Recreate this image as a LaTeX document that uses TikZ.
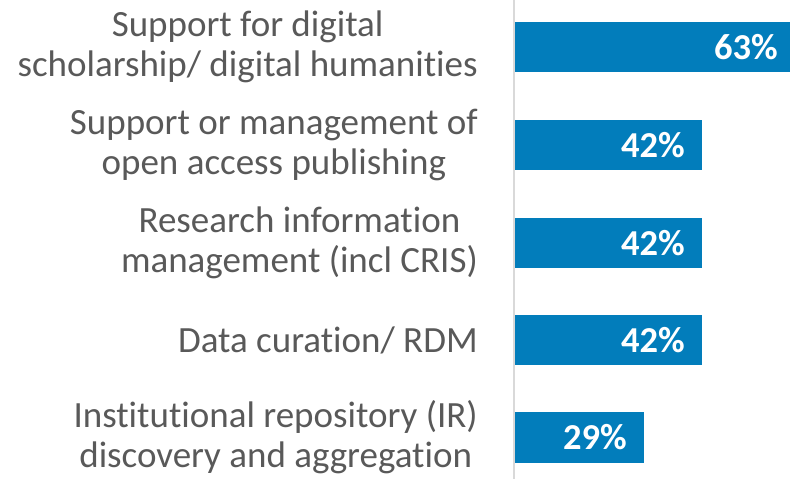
\documentclass[tikz,border=0pt]{standalone}
\usepackage{fontspec}
\setmainfont{Carlito}[RawFeature={-liga;-dlig}]
\definecolor{barblue}{RGB}{2,125,187}
\definecolor{labgray}{RGB}{89,89,89}
\definecolor{axisgray}{RGB}{217,217,217}
\begin{document}
\begin{tikzpicture}[x=1pt,y=-1pt,
  bar/.style={fill=barblue,draw=none},
  lab/.style={anchor=east,align=center,text=labgray,inner sep=0pt,
    font=\fontsize{37}{40}\selectfont},
  val/.style={anchor=east,text=white,inner sep=0pt,
    font=\fontsize{36.5}{40}\selectfont\bfseries}]
\useasboundingbox (0,0) rectangle (790,479);
\begin{scope}
\clip (0,0) rectangle (790,479);
\draw[axisgray,line width=2pt] (514,0) -- (514,479);
\fill[bar] (515,22) rectangle (795,72);
\fill[bar] (515,119.5) rectangle (702,170);
\fill[bar] (515,217.5) rectangle (702,268);
\fill[bar] (515,315) rectangle (702,365);
\fill[bar] (515,412) rectangle (644,463);
\end{scope}
\node[val] (v1) at (778,47) {63\%};
\node[val] (v2) at (685,145) {42\%};
\node[val] (v3) at (685,243) {42\%};
\node[val] (v4) at (685,340) {42\%};
\node[val] (v5) at (627,437.5) {29\%};
\node[lab] (l1) at (478,47) {Support for digital\\scholarship/ digital humanities};
\node[lab] (l2) at (478,145) {Support or management of\\open access publishing};
\node[lab] (l3) at (478,243) {Research information\\management (incl CRIS)};
\node[lab] (l4) at (478,340) {Data curation/ RDM};
\node[lab] (l5) at (478,437.5) {Institutional repository (IR)\\discovery and aggregation};
\end{tikzpicture}
\end{document}
